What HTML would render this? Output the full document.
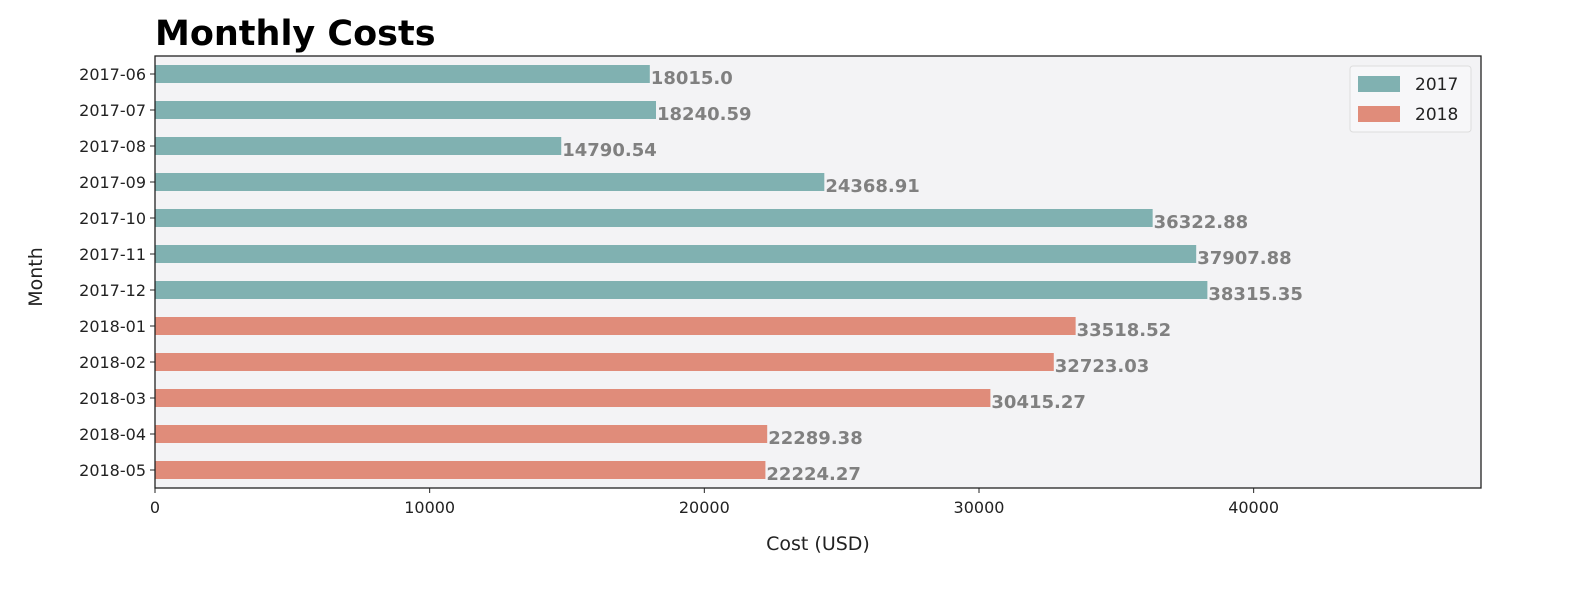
<!DOCTYPE html>
<html><head><meta charset="utf-8"><style>
body{margin:0;background:#fff;}
svg text{font-family:"DejaVu Sans","Liberation Sans",sans-serif;}
</style></head><body>
<svg id="chart" width="1584" height="584" xmlns="http://www.w3.org/2000/svg">
<text x="155" y="45" font-size="35" font-weight="bold" fill="#000">Monthly Costs</text>
<rect x="155" y="56" width="1326" height="432" fill="#f3f3f5"/>
<g id="bars"></g>
<g id="xticks"></g>
<g id="yticks"></g>
<rect x="155" y="56" width="1326" height="432" fill="none" stroke="#222" stroke-width="1.3"/>
<text x="818" y="550" font-size="19" text-anchor="middle" fill="#222">Cost (USD)</text>
<text x="0" y="0" font-size="19" text-anchor="middle" fill="#222" transform="translate(42,277) rotate(-90)">Month</text>
<g>
<rect x="1350" y="66" width="121" height="66" rx="3" fill="#f7f7f9" stroke="#ddd"/>
<rect x="1358" y="76" width="42" height="16" fill="#80b1b1"/>
<text x="1415" y="90" font-size="17" fill="#222">2017</text>
<rect x="1358" y="106" width="42" height="16" fill="#e08c7a"/>
<text x="1415" y="120" font-size="17" fill="#222">2018</text>
</g>
</svg>
<script>
const months=["2017-06","2017-07","2017-08","2017-09","2017-10","2017-11","2017-12","2018-01","2018-02","2018-03","2018-04","2018-05"];
const costs=[18015.0,18240.59,14790.54,24368.91,36322.88,37907.88,38315.35,33518.52,32723.03,30415.27,22289.38,22224.27];
const valueLabels=["18015.0","18240.59","14790.54","24368.91","36322.88","37907.88","38315.35","33518.52","32723.03","30415.27","22289.38","22224.27"];
const years=["2017","2017","2017","2017","2017","2017","2017","2018","2018","2018","2018","2018"];
const xTicks=[0,10000,20000,30000,40000];
const NS="http://www.w3.org/2000/svg";
const L=155,R=1481,T=56,B=488;
const xMax=Math.max(...costs)*1.26;
const x=v=>L+(v/xMax)*(R-L);
const step=36;
const y=i=>74+i*step;
const colors={"2017":"#80b1b1","2018":"#e08c7a"};
function mk(tag,attrs,parent){const e=document.createElementNS(NS,tag);for(const k in attrs)e.setAttribute(k,attrs[k]);parent.appendChild(e);return e;}
const gb=document.getElementById('bars'),gx=document.getElementById('xticks'),gy=document.getElementById('yticks');
const bh=18;
months.forEach((m,i)=>{
  const cy=y(i);
  const r=mk('rect',{x:L,y:cy-bh/2,width:x(costs[i])-L,height:bh,fill:colors[years[i]]},gb);
  
  
  const t=mk('text',{x:x(costs[i])+1,y:cy+10,'font-size':18,'font-weight':'bold',fill:'#808080'},gb);
  t.textContent=valueLabels[i];
  
  
  const tk=mk('line',{x1:L-5,x2:L,y1:cy,y2:cy,stroke:'#222'},gy);
  
  
  const tl=mk('text',{x:L-9,y:cy+6,'font-size':16,'text-anchor':'end',fill:'#222'},gy);
  tl.textContent=m;
  
  
});
xTicks.forEach(v=>{
  const tk=mk('line',{x1:x(v),x2:x(v),y1:B,y2:B+5,stroke:'#222'},gx);
  
  
  const tl=mk('text',{x:x(v),y:B+25,'font-size':16,'text-anchor':'middle',fill:'#222'},gx);
  tl.textContent=v;
  
  
});
</script>
</body></html>
